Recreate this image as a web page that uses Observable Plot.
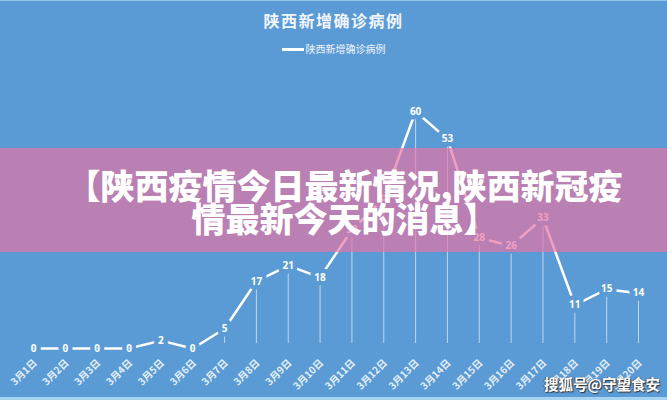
<!DOCTYPE html>
<html>
<head>
<meta charset="utf-8">
<script src="https://cdn.jsdelivr.net/npm/d3@7"></script>
<script src="https://cdn.jsdelivr.net/npm/@observablehq/plot@0.6"></script>
<style>
  html, body { margin: 0; padding: 0; }
  #wrap { position: relative; width: 667px; height: 400px; background: #5b9bd5; overflow: hidden; font-family: "Noto Sans CJK SC", "Noto Sans", sans-serif; }
  #topline { position: absolute; left: 0; top: 0; width: 667px; height: 1px; background: #8fc3ea; }
  #bottomline { position: absolute; left: 0; top: 397px; width: 667px; height: 3px; background: #a6d3f0; }
  #title { position: absolute; left: 0; top: 8px; width: 667px; text-align: center; color: #f2f6fb; font-size: 16px; font-weight: bold; letter-spacing: 1.5px; line-height: 24px; }
  #legend { position: absolute; left: 0; top: 40px; width: 667px; text-align: center; color: #eef4fa; font-size: 10px; line-height: 18px; }
  #legend .sw { display: inline-block; width: 22px; height: 3px; background: #ffffff; vertical-align: middle; margin-right: 2px; position: relative; top: -1px; }
  #chart { position: absolute; left: 0; top: 65px; }
  #banner { position: absolute; left: 0; top: 148px; width: 667px; height: 104px; background: rgba(232,114,163,0.67); color: #ffffff; font-weight: 900; font-size: 34px; line-height: 33px; text-align: center; box-sizing: border-box; padding-top: 20px; padding-left: 22px; white-space: nowrap; }
  #wm { position: absolute; right: 7px; top: 373px; color: #ffffff; font-size: 14.5px; font-weight: bold; text-shadow: 1px 1px 1px #333, -1px 0 1px #555; }
</style>
</head>
<body>
<div id="wrap">
  <div id="topline"></div>
  <div id="title">陕西新增确诊病例</div>
  <div id="legend"><span class="sw"></span>陕西新增确诊病例</div>
  <div id="chart"></div>
  <div id="banner">【陕西疫情今日最新情况,陕西新冠疫<br>情最新今天的消息】</div>
  <div id="wm">搜狐号@守望食安</div>
  <div id="bottomline"></div>
</div>
<script>
const dates = ["3月1日","3月2日","3月3日","3月4日","3月5日","3月6日","3月7日","3月8日","3月9日","3月10日","3月11日","3月12日","3月13日","3月14日","3月15日","3月16日","3月17日","3月18日","3月19日","3月20日"];
const cases = [0,0,0,0,2,0,5,17,21,18,30,38,60,53,28,26,33,11,15,14];
const seriesName = "陕西新增确诊病例";

const data = dates.map((d, i) => ({date: d, value: cases[i]}));
const bg = "#5b9bd5";

const chart = Plot.plot({
  width: 667,
  height: 335,
  marginTop: 46,
  marginBottom: 52,
  marginLeft: 33,
  marginRight: 29,
  style: {background: "transparent", overflow: "visible", fontFamily: "'Noto Sans', 'Noto Sans CJK SC', sans-serif"},
  x: {type: "point", domain: dates, range: [33, 638], padding: 0, round: false, axis: null},
  y: {domain: [0, 60], axis: null},
  marks: [
    Plot.ruleX(data.filter(d => d.value >= 5), {x: "date", y1: "value", y2: 0, insetTop: 8, insetBottom: 5, stroke: "white", strokeOpacity: 0.6, strokeWidth: 1}),
    Plot.line(data, {x: "date", y: "value", stroke: "white", strokeWidth: 2.5}),
    Plot.text(data, {x: "date", y: "value", text: d => String(d.value), fill: "white", stroke: bg, strokeWidth: 9, fontSize: 10, fontWeight: "bold"}),
    Plot.text(dates, {x: d => d, frameAnchor: "bottom", dy: 15, dx: 4, rotate: -45, textAnchor: "end", fill: "white", fillOpacity: 0.85, fontSize: 10, fontWeight: "bold", fontFamily: "'Noto Sans CJK SC', sans-serif"})
  ]
});
document.getElementById("chart").appendChild(chart);
</script>
</body>
</html>
